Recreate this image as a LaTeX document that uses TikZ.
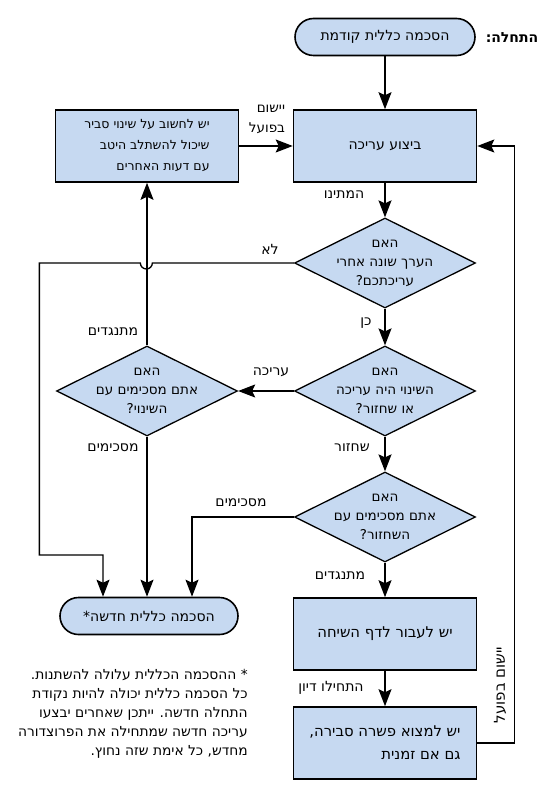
\documentclass[tikz,border=0pt]{standalone}
\usepackage{fontspec}
\newfontfamily\hebfont[Script=Hebrew]{DejaVu Sans}
\TeXXeTstate=1
\usetikzlibrary{positioning, arrows.meta, shapes.geometric}
\definecolor{BoxFill}{HTML}{C6D9F1}

\begin{document}
\begin{tikzpicture}[x=1pt, y=-1pt,
  box/.style={draw=black, line width=1.6pt, fill=BoxFill,
              minimum width=183pt, minimum height=72pt, inner sep=0pt,
              font=\hebfont\fontsize{14}{21}\selectfont, align=center},
  bigbox/.style={box, font=\hebfont\fontsize{14.8}{23}\selectfont},
  term/.style={box, minimum width=180pt, minimum height=37pt, rounded corners=18.5pt},
  dia/.style={diamond, draw=black, line width=1.3pt, fill=BoxFill,
              minimum width=181pt, minimum height=90pt, inner sep=0pt},
  diatext/.style={font=\hebfont\fontsize{13.5}{19}\selectfont, align=center},
  arr/.style={-{Stealth[length=17pt, width=13pt, inset=3pt]}, line width=1.3pt},
  lbl/.style={font=\hebfont\fontsize{14}{16}\selectfont, inner sep=0pt},
]
  \fill[white] (0,0) rectangle (543,799);
  \useasboundingbox (0,0) rectangle (543,799);

  % main column
  \node[term] (start) at (385,37) {\beginR הסכמה כללית קודמת\endR};
  \node[lbl, font=\hebfont\bfseries\fontsize{14}{16}\selectfont] (begin) at (512,38) {\beginR התחלה:\endR};
  \node[box] (edit) at (385,146) {\beginR ביצוע עריכה\endR};
  \node[box, align=right, font=\hebfont\fontsize{12.5}{21}\selectfont] (think) at (147,146)
    {\beginR יש לחשוב על שינוי סביר\endR\\\beginR שיכול להשתלב היטב\endR\\\beginR עם דעות האחרים\endR};
  \node[dia, label={[diatext]center:{\beginR האם\endR\\\beginR הערך שונה אחרי\endR\\\beginR עריכתכם?\endR}}] (d1) at (385,263) {};
  \node[dia, label={[diatext]center:{\beginR האם\endR\\\beginR השינוי היה עריכה\endR\\\beginR או שחזור?\endR}}] (d2) at (385,391) {};
  \node[dia, label={[diatext]center:{\beginR האם\endR\\\beginR אתם מסכימים עם\endR\\\beginR השינוי?\endR}}] (d3) at (147,391) {};
  \node[dia, label={[diatext]center:{\beginR האם\endR\\\beginR אתם מסכימים עם\endR\\\beginR השחזור?\endR}}] (d4) at (385,517) {};
  \node[term, minimum width=178pt] (newc) at (149,616) {\beginR הסכמה כללית חדשה*\endR};
  \node[bigbox] (talk) at (385,634) {\beginR יש לעבור לדף השיחה\endR};
  \node[bigbox, align=right] (comp) at (385,743) {\beginR יש למצוא פשרה סבירה,\endR\\\beginR גם אם זמנית\endR};

  % footnote
  \node[anchor=north east, align=right, inner sep=0pt,
        font=\hebfont\fontsize{13.8}{19}\selectfont] (note) at (248,669)
    {\beginR * ההסכמה הכללית עלולה להשתנות.\endR\\\beginR כל הסכמה כללית יכולה להיות נקודת\endR\\\beginR התחלה חדשה. ייתכן שאחרים יבצעו\endR\\\beginR עריכה חדשה שמתחילה את הפרוצדורה\endR\\\beginR מחדש, כל אימת שזה נחוץ.\endR};

  % connectors
  \draw[arr] (start) -- (edit);
  \draw[arr] (think) -- (edit);
  \draw[arr] (edit) -- (d1);
  \draw[arr] (d1) -- (d2);
  \draw[arr] (d2) -- (d3);
  \draw[arr] (d3) -- (think);
  \draw[arr] (d3.south) -- (d3.south |- newc.north);
  \draw[arr] (d2) -- (d4);
  \draw[arr] (d4.west) -| ([xshift=43pt]newc.north);
  \draw[arr] (d4) -- (talk);
  \draw[arr] (talk) -- (comp);
  \draw[arr] (comp.east) -- ++(37,0) |- (edit.east);
  \draw[arr] (d1.west) -- ++(-141.5,0) arc[start angle=0, end angle=-180, radius=6pt]
    -- ++(-101,0) -- ++(0,292) -| ([xshift=-46pt]newc.north);

  % connector labels
  \node[lbl, align=right, font=\hebfont\fontsize{13.5}{20}\selectfont] (lblapply) at (267,119) {\beginR יישום\endR\\\beginR בפועל\endR};
  \node[lbl] (lblwait) at (344,195) {\beginR המתינו\endR};
  \node[lbl] (lblno) at (270,249) {\beginR לא\endR};
  \node[lbl] (lblyes) at (366,323) {\beginR כן\endR};
  \node[lbl] (lbledit) at (271,372) {\beginR עריכה\endR};
  \node[lbl] (lbloppA) at (113,332) {\beginR מתנגדים\endR};
  \node[lbl] (lblagrA) at (113,448) {\beginR מסכימים\endR};
  \node[lbl] (lblrevert) at (352,448) {\beginR שחזור\endR};
  \node[lbl] (lblagrB) at (241,503) {\beginR מסכימים\endR};
  \node[lbl] (lbloppB) at (340,576) {\beginR מתנגדים\endR};
  \node[lbl] (lbldisc) at (331,688) {\beginR התחילו דיון\endR};
  \node[lbl, rotate=90, font=\hebfont\fontsize{15}{17}\selectfont] (lblapplyB) at (500,685) {\beginR יישום בפועל\endR};
\end{tikzpicture}
\end{document}
